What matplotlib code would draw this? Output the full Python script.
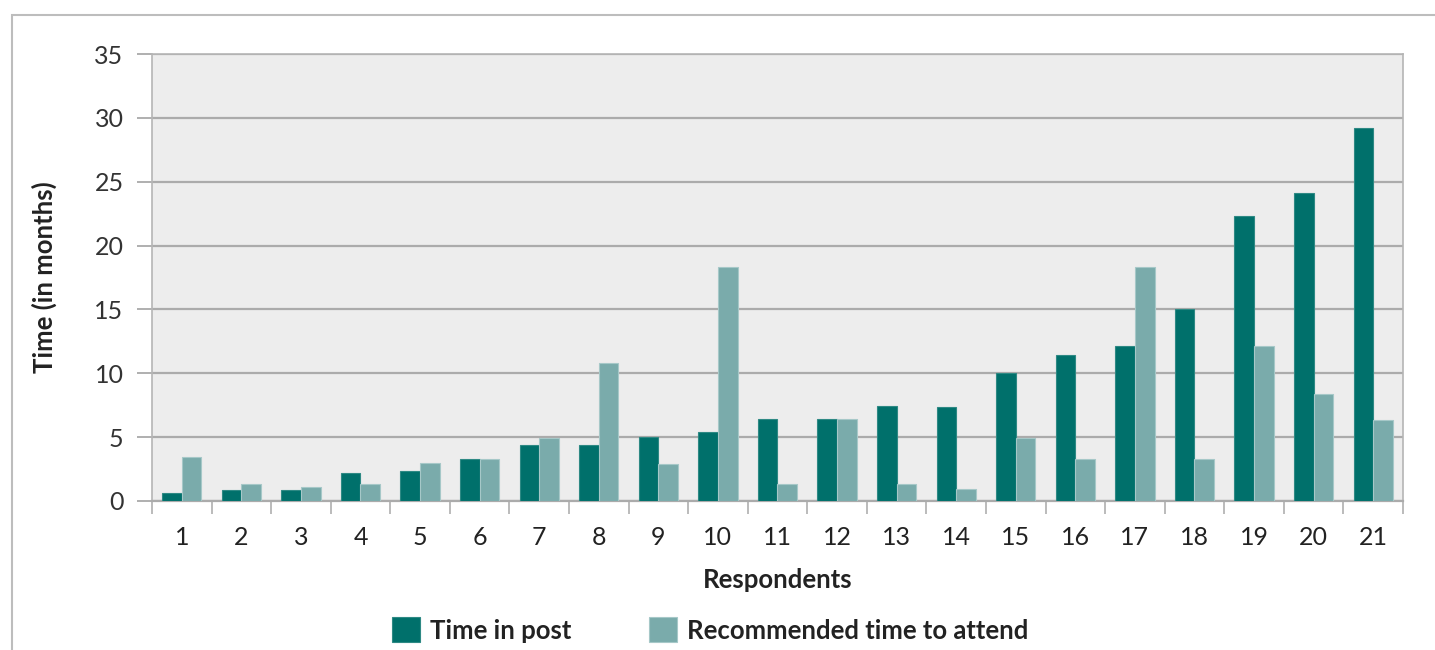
import matplotlib
matplotlib.use("Agg")
import matplotlib.pyplot as plt
import numpy as np
from matplotlib.patches import Rectangle

respondents = [str(i) for i in range(1, 22)]
time_in_post = [0.65, 0.87, 0.87, 2.16, 2.31, 3.32, 4.37, 4.36, 5.04, 5.38, 6.39,
                6.39, 7.41, 7.38, 10.0, 11.42, 12.17, 15.01, 22.3, 24.13, 29.19]
recommended = [3.42, 1.31, 1.1, 1.3, 2.97, 3.3, 4.95, 10.83, 2.93, 18.34, 1.31,
               6.39, 1.31, 0.92, 4.97, 3.28, 18.3, 3.28, 12.17, 8.39, 6.36]
yticks = [0, 5, 10, 15, 20, 25, 30, 35]

dark = "#00706B"
light = "#7AABAB"
grid_c = "#ABABAB"
font = "Lato"

fig = plt.figure(figsize=(14.35, 6.5), dpi=100)
# outer border
fig.patches.append(Rectangle((12/1435, -0.1), 1.2, 1 - 15/650 + 0.1, transform=fig.transFigure,
                             fill=False, edgecolor="#BDBDBD", linewidth=1.5, zorder=0))

ax = fig.add_axes([152/1435, 1 - 501/650, (1403-152)/1435, (501-54)/650])
ax.set_facecolor("#EDEDED")

x = np.arange(1, len(respondents) + 1)
w = 0.33
ax.bar(x - w/2, time_in_post, width=w, color=dark, edgecolor="#2E8984", linewidth=0.8,
       label="Time in post", zorder=3)
ax.bar(x + w/2, recommended, width=w, color=light, edgecolor="#A6C8C8", linewidth=0.8,
       label="Recommended time to attend", zorder=3)

ax.set_xlim(0.5, len(respondents) + 0.5)
ax.set_ylim(0, 35)
ax.set_yticks(yticks)
ax.set_yticklabels([str(v) for v in yticks], fontsize=18, family=font, color="#333333")
ax.yaxis.grid(True, color=grid_c, linewidth=1.6, zorder=1)
ax.set_axisbelow(True)

ax.set_xticks(x)
ax.set_xticklabels(respondents, fontsize=18, family=font, color="#222222")
ax.set_xticks(np.arange(0.5, len(respondents) + 1, 1), minor=True)
ax.tick_params(axis="x", which="major", length=0, pad=18)
ax.tick_params(axis="x", which="minor", length=9.5, width=1.2, color="#AFAFAF", direction="out")
ax.tick_params(axis="y", length=11, width=1.4, color="#AFAFAF", pad=9.5)

for s in ax.spines.values():
    s.set_color("#B5B5B5")
    s.set_linewidth(1.2)
ax.spines["bottom"].set_color(grid_c)
ax.spines["bottom"].set_linewidth(1.6)

ax.set_xlabel("Respondents", fontsize=18.5, fontweight="bold", family=font, color="#222222", labelpad=14)
ax.set_ylabel("Time (in months)", fontsize=18.5, fontweight="bold", family=font, color="#222222", labelpad=27)

leg = fig.legend(loc="center", bbox_to_anchor=(710/1435, 1 - 630/650), ncol=2, frameon=False,
                 prop={"family": font, "weight": "bold", "size": 18.5}, handlelength=1.1,
                 handleheight=1.1, handletextpad=0.4, columnspacing=3.0)
for t in leg.get_texts():
    t.set_color("#222222")

fig.savefig("out.png", dpi=100)
